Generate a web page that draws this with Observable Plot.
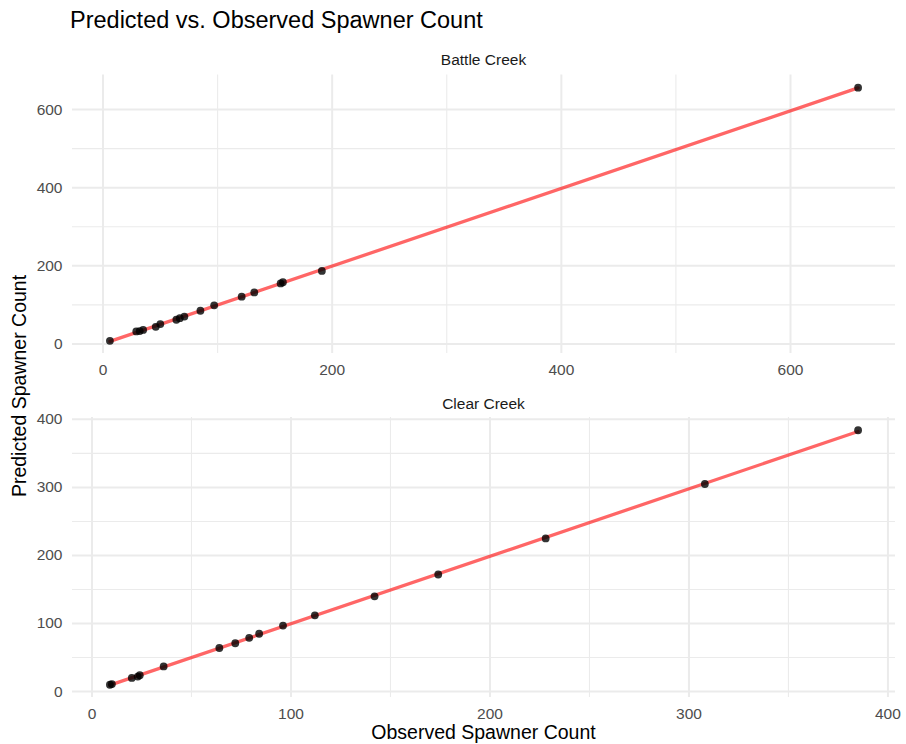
<!DOCTYPE html>
<html>
<head>
<meta charset="utf-8">
<script src="https://cdn.jsdelivr.net/npm/d3@7"></script>
<script src="https://cdn.jsdelivr.net/npm/@observablehq/plot@0.6"></script>
<style>
  html, body { margin: 0; padding: 0; background: white; }
  #root { position: relative; width: 906px; height: 744px; background: white; overflow: hidden;
          font-family: 'Liberation Sans', Arial, Helvetica, sans-serif; }
  .txt { position: absolute; white-space: nowrap; line-height: 1; }
  .panel { position: absolute; left: 0; }
</style>
</head>
<body>
<div id="root">
  <div class="txt" style="left:70px; top:21px; font-size:23.5px; color:#000; transform:translateY(-50%)">Predicted vs. Observed Spawner Count</div>
  <div class="txt" style="left:483.5px; top:60px; font-size:15.5px; color:#1a1a1a; transform:translate(-50%,-50%)">Battle Creek</div>
  <div class="txt" style="left:483.5px; top:404px; font-size:15.5px; color:#1a1a1a; transform:translate(-50%,-50%)">Clear Creek</div>
  <div class="txt" style="left:483.5px; top:733px; font-size:19.5px; color:#000; transform:translate(-50%,-50%)">Observed Spawner Count</div>
  <div class="txt" style="left:19.5px; top:386px; font-size:19.5px; color:#000; transform:translate(-50%,-50%) rotate(-90deg)">Predicted Spawner Count</div>
  <div class="panel" id="p1" style="top:44px"></div>
  <div class="panel" id="p2" style="top:390px"></div>
</div>
<script>
// Battle Creek
const battleObserved  = [6, 29, 32, 35, 46, 50, 64, 67, 71, 85, 97, 121, 132, 155, 157, 191, 659];
const battlePredicted = [8, 32, 33, 36, 44, 51, 62, 66, 70, 85, 99, 121, 132, 155, 158, 187, 656];
const battleXMajor = [0, 200, 400, 600];
const battleXMinor = [100, 300, 500];
const battleYMajor = [0, 200, 400, 600];
const battleYMinor = [100, 300, 500];

// Clear Creek
const clearObserved  = [9, 10, 20, 23, 24, 36, 64, 72, 79, 84, 96, 112, 142, 174, 228, 308, 385];
const clearPredicted = [10, 11, 20, 22, 24, 37, 64, 71, 79, 85, 97, 112, 140, 172, 225, 305, 384];
const clearXMajor = [0, 100, 200, 300, 400];
const clearXMinor = [50, 150, 250, 350];
const clearYMajor = [0, 100, 200, 300, 400];
const clearYMinor = [50, 150, 250, 350];

function expand(ext) {
  const d = ext[1] - ext[0];
  return [ext[0] - 0.05 * d, ext[1] + 0.05 * d];
}

function panel(obs, pred, xMajor, xMinor, yMajor, yMinor, height, marginTop, marginBottom) {
  const data = obs.map((o, i) => ({observed: o, predicted: pred[i]}));
  const grid = "#ebebeb";
  return Plot.plot({
    width: 906,
    height,
    marginLeft: 72,
    marginRight: 11,
    marginTop,
    marginBottom,
    style: {
      fontFamily: "'Liberation Sans', Arial, Helvetica, sans-serif",
      fontSize: "15.5px",
      color: "#4d4d4d",
      background: "transparent",
      overflow: "visible"
    },
    x: {domain: expand(d3.extent(obs)), label: null},
    y: {domain: expand(d3.extent(pred)), label: null},
    marks: [
      Plot.gridX(xMinor, {stroke: grid, strokeOpacity: 1, strokeWidth: 1.1}),
      Plot.gridY(yMinor, {stroke: grid, strokeOpacity: 1, strokeWidth: 1.1}),
      Plot.gridX(xMajor, {stroke: grid, strokeOpacity: 1, strokeWidth: 2}),
      Plot.gridY(yMajor, {stroke: grid, strokeOpacity: 1, strokeWidth: 2}),
      Plot.axisX(xMajor, {tickSize: 0, tickPadding: 10.5, label: null, tickFormat: d => String(d)}),
      Plot.axisY(yMajor, {tickSize: 0, tickPadding: 10, label: null, tickFormat: d => String(d)}),
      Plot.linearRegressionY(data, {x: "observed", y: "predicted", stroke: "red", strokeOpacity: 0.6, strokeWidth: 3.3, ci: 0}),
      Plot.dot(data, {x: "observed", y: "predicted", r: 3.9, fill: "black", fillOpacity: 0.8, stroke: "none"})
    ]
  });
}

document.getElementById("p1").append(
  panel(battleObserved, battlePredicted, battleXMajor, battleXMinor, battleYMajor, battleYMinor, 340, 30.5, 31)
);
document.getElementById("p2").append(
  panel(clearObserved, clearPredicted, clearXMajor, clearXMinor, clearYMajor, clearYMinor, 340, 27, 33)
);
</script>
</body>
</html>
